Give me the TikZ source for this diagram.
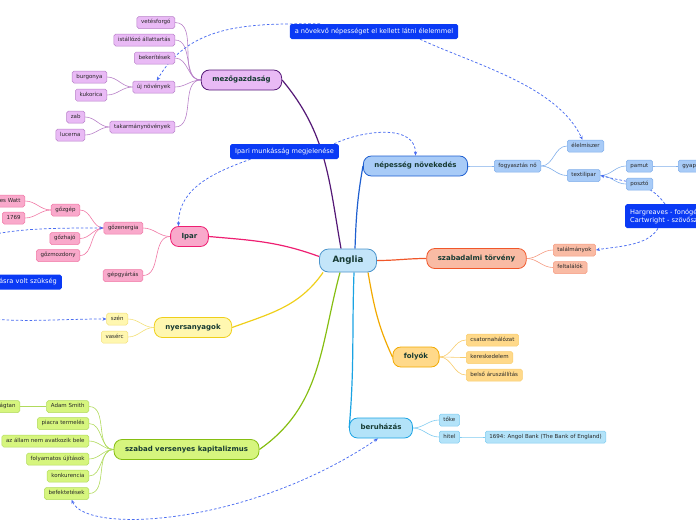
\documentclass[tikz,border=0pt]{standalone}
\usepackage{fontspec}
\setmainfont{DejaVu Sans}
\usepackage{tikz}
\usetikzlibrary{arrows.meta,backgrounds}
\definecolor{rootFill}{RGB}{195,229,249}
\definecolor{rootEdge}{RGB}{76,149,204}
\definecolor{topicText}{RGB}{22,58,50}
\definecolor{leafText}{RGB}{40,40,40}
\definecolor{noteBlue}{RGB}{10,58,245}
\definecolor{relBlue}{RGB}{74,108,240}
\definecolor{agriFill}{RGB}{233,186,245}
\definecolor{agriEdge}{RGB}{84,24,118}
\definecolor{agriSub}{RGB}{184,128,200}
\definecolor{popFill}{RGB}{168,203,247}
\definecolor{popEdge}{RGB}{31,95,208}
\definecolor{popSub}{RGB}{128,174,234}
\definecolor{indFill}{RGB}{249,169,203}
\definecolor{indEdge}{RGB}{238,31,114}
\definecolor{indSub}{RGB}{240,120,165}
\definecolor{patFill}{RGB}{249,187,164}
\definecolor{patEdge}{RGB}{240,87,42}
\definecolor{patSub}{RGB}{245,154,128}
\definecolor{rawFill}{RGB}{255,247,176}
\definecolor{rawEdge}{RGB}{239,207,26}
\definecolor{rawSub}{RGB}{243,224,122}
\definecolor{capFill}{RGB}{214,245,126}
\definecolor{capEdge}{RGB}{134,190,18}
\definecolor{capSub}{RGB}{176,218,92}
\definecolor{rivFill}{RGB}{255,217,138}
\definecolor{rivEdge}{RGB}{242,169,0}
\definecolor{rivSub}{RGB}{248,205,110}
\definecolor{invFill}{RGB}{179,227,249}
\definecolor{invEdge}{RGB}{26,163,227}
\definecolor{invSub}{RGB}{127,203,240}

\tikzset{
  root/.style={draw=rootEdge, fill=rootFill, line width=0.8pt, rounded corners=9pt,
    minimum height=23pt, inner xsep=13pt, inner ysep=0pt, text=topicText,
    font=\bfseries\fontsize{8.7}{10}\selectfont, text height=6.4pt, text depth=1.8pt},
  topic/.style={line width=0.8pt, rounded corners=8pt, minimum height=20pt,
    inner xsep=11pt, inner ysep=0pt, text=topicText,
    font=\bfseries\fontsize{7}{8}\selectfont, text height=5.2pt, text depth=1.5pt},
  leaf/.style={line width=0.5pt, rounded corners=1.8pt, minimum height=12pt,
    inner xsep=4.2pt, inner ysep=0pt, text=leafText,
    font=\fontsize{5.5}{6.5}\selectfont, text height=4.1pt, text depth=1.2pt},
  note/.style={fill=noteBlue, rounded corners=1.8pt, minimum height=15pt,
    inner xsep=5pt, inner ysep=0pt, text=white,
    font=\fontsize{6.6}{8.2}\selectfont, text height=4.9pt, text depth=1.4pt},
  agriT/.style={topic, fill=agriFill, draw=agriEdge},
  agriL/.style={leaf, fill=agriFill, draw=agriSub},
  popT/.style={topic, fill=popFill, draw=popEdge},
  popL/.style={leaf, fill=popFill, draw=popSub},
  indT/.style={topic, fill=indFill, draw=indEdge},
  indL/.style={leaf, fill=indFill, draw=indSub},
  patT/.style={topic, fill=patFill, draw=patEdge},
  patL/.style={leaf, fill=patFill, draw=patSub},
  rawT/.style={topic, fill=rawFill, draw=rawEdge},
  rawL/.style={leaf, fill=rawFill, draw=rawSub},
  capT/.style={topic, fill=capFill, draw=capEdge},
  capL/.style={leaf, fill=capFill, draw=capSub},
  rivT/.style={topic, fill=rivFill, draw=rivEdge},
  rivL/.style={leaf, fill=rivFill, draw=rivSub},
  invT/.style={topic, fill=invFill, draw=invEdge},
  invL/.style={leaf, fill=invFill, draw=invSub},
  branch/.style={line width=1.2pt},
  twigl/.style={line width=0.6pt, out=180, in=0},
  twigr/.style={line width=0.6pt, out=0, in=180},
  rel/.style={draw=relBlue, line width=0.75pt, dash pattern=on 2.6pt off 2pt,
    -{Stealth[length=4pt,width=3.4pt]}},
}

\begin{document}
\begin{tikzpicture}[x=1pt,y=-1pt]
\useasboundingbox (0,0) rectangle (696,520);
\clip (0,0) rectangle (696,520);

% centre and main topics
\node[root] (anglia) at (348,260.5) {Anglia};
\node[agriT] (mezo) at (241.5,80) {mezőgazdaság};
\node[popT] (nep) at (415.5,166) {népesség növekedés};
\node[indT] (ipar) at (189.5,236.5) {Ipar};
\node[patT] (szab) at (476.5,258.5) {szabadalmi törvény};
\node[rawT] (nyers) at (193,327.5) {nyersanyagok};
\node[capT] (szabad) at (186.5,449.5) {szabad versenyes kapitalizmus};
\node[rivT] (foly) at (416,357) {folyók};
\node[invT] (beru) at (381,428) {beruházás};

% mezőgazdaság
\node[agriL, anchor=east] (vetes) at (175,22.5) {vetésforgó};
\node[agriL, anchor=east] (istallo) at (175,40) {istállózó állattartás};
\node[agriL, anchor=east] (bekerit) at (175,58) {bekerítések};
\node[agriL, anchor=east] (ujnov) at (175,87) {új növények};
\node[agriL, anchor=east] (burg) at (107,77) {burgonya};
\node[agriL, anchor=east] (kuk) at (107,95) {kukorica};
\node[agriL, anchor=east] (takarm) at (175,127) {takarmánynövények};
\node[agriL, anchor=east] (zab) at (85,117) {zab};
\node[agriL, anchor=east] (luc) at (85,135) {lucerna};

% ipar
\node[indL, anchor=east] (gozen) at (143,228) {gőzenergia};
\node[indL, anchor=east] (gepgy) at (143,275.5) {gépgyártás};
\node[indL, anchor=east] (gozgep) at (80,210) {gőzgép};
\node[indL, anchor=east] (gozhajo) at (80,238.5) {gőzhajó};
\node[indL, anchor=east] (gozmoz) at (80,255.5) {gőzmozdony};
\node[indL, anchor=east] (watt) at (25,201) {James Watt};
\node[indL, anchor=east] (ev1769) at (25,218) {1769};

% nyersanyagok
\node[rawL, anchor=east] (szen) at (128,319) {szén};
\node[rawL, anchor=east] (vaserc) at (128,337) {vasérc};

% szabad versenyes kapitalizmus
\node[capL, anchor=east] (adam) at (89,406.5) {Adam Smith};
\node[capL, anchor=east] (kozg) at (20,406.5) {közgazdaságtan};
\node[capL, anchor=east] (piac) at (89,423.5) {piacra termelés};
\node[capL, anchor=east] (allam) at (89,441) {az állam nem avatkozik bele};
\node[capL, anchor=east] (ujitas) at (89,459) {folyamatos újítások};
\node[capL, anchor=east] (konk) at (89,476) {konkurencia};
\node[capL, anchor=east] (befekt) at (89,493.5) {befektetések};

% népesség növekedés
\node[popL, anchor=west] (fogy) at (494,166) {fogyasztás nő};
\node[popL, anchor=west] (elel) at (567,146) {élelmiszer};
\node[popL, anchor=west] (textil) at (567,175.5) {textilipar};
\node[popL, anchor=west] (pamut) at (626,166) {pamut};
\node[popL, anchor=west] (gyapot) at (678,166) {gyapot};
\node[popL, anchor=west] (poszto) at (626,184) {posztó};

% szabadalmi törvény
\node[patL, anchor=west] (talal) at (553,250) {találmányok};
\node[patL, anchor=west] (feltal) at (553,267.5) {feltalálók};

% folyók
\node[rivL, anchor=west] (csat) at (466,340) {csatornahálózat};
\node[rivL, anchor=west] (keresk) at (466,357.5) {kereskedelem};
\node[rivL, anchor=west] (belso) at (466,375) {belső áruszállítás};

% beruházás
\node[invL, anchor=west] (toke) at (439,420) {tőke};
\node[invL, anchor=west] (hitel) at (439,437) {hitel};
\node[invL, anchor=west] (bank) at (485,437) {1694: Angol Bank (The Bank of England)};

% relationship labels
\node[note] (ellat) at (374,31.5) {a növekvő népességet el kellett látni élelemmel};
\node[note] (munkas) at (284.5,151.5) {Ipari munkásság megjelenése};
\node[note, anchor=north west, align=left, minimum height=24pt, inner ysep=2pt,
  text height=, text depth=] (gepek) at (625,204)
  {Hargreaves - fonógép\\Cartwright - szövőszék};
\node[note, anchor=east, text width=150pt, align=right] (szukseg) at (62,282)
  {ásra volt szükség};

\begin{scope}[on background layer]
\clip (0,0) rectangle (696,520);
% main branches
\draw[branch, agriEdge] ([xshift=-7pt]anglia.north) to[out=100, in=-50] (mezo.east);
\draw[branch, popEdge] ([xshift=7pt]anglia.north) to[out=88, in=-100] (nep.west);
\draw[branch, indEdge] ([yshift=4pt]anglia.west) to[out=160, in=-5] (ipar.east);
\draw[branch, patEdge] (anglia.east) to[out=0, in=180] (szab.west);
\draw[branch, rawEdge] ([xshift=4pt]anglia.south west) to[out=-125, in=20] (nyers.east);
\draw[branch, capEdge] ([xshift=-8pt]anglia.south) to[out=-105, in=35] (szabad.east);
\draw[branch, invEdge] ([xshift=6pt]anglia.south) to[out=-92, in=85] (beru.west);
\draw[branch, rivEdge] ([xshift=20pt]anglia.south) to[out=-80, in=115] (foly.west);

% sub branches
\foreach \c in {vetes,istallo,bekerit,ujnov,takarm}
  \draw[twigl, agriSub] (mezo.west) to (\c.east);
\foreach \c in {burg,kuk}
  \draw[twigl, agriSub] (ujnov.west) to (\c.east);
\foreach \c in {zab,luc}
  \draw[twigl, agriSub] (takarm.west) to (\c.east);
\foreach \c in {gozen,gepgy}
  \draw[twigl, indSub] (ipar.west) to (\c.east);
\foreach \c in {gozgep,gozhajo,gozmoz}
  \draw[twigl, indSub] (gozen.west) to (\c.east);
\foreach \c in {watt,ev1769}
  \draw[twigl, indSub] (gozgep.west) to (\c.east);
\foreach \c in {szen,vaserc}
  \draw[twigl, rawSub] (nyers.west) to (\c.east);
\foreach \c in {adam,piac,allam,ujitas,konk,befekt}
  \draw[twigl, capSub] (szabad.west) to (\c.east);
\draw[twigl, capSub] (adam.west) to (kozg.east);
\draw[twigr, popSub] (nep.east) to (fogy.west);
\foreach \c in {elel,textil}
  \draw[twigr, popSub] (fogy.east) to (\c.west);
\foreach \c in {pamut,poszto}
  \draw[twigr, popSub] (textil.east) to (\c.west);
\draw[twigr, popSub] (pamut.east) to (gyapot.west);
\foreach \c in {talal,feltal}
  \draw[twigr, patSub] (szab.east) to (\c.west);
\foreach \c in {csat,keresk,belso}
  \draw[twigr, rivSub] (foly.east) to (\c.west);
\foreach \c in {toke,hitel}
  \draw[twigr, invSub] (beru.east) to (\c.west);
\draw[twigr, invSub] (hitel.east) to (bank.west);

% relationships
\draw[rel] ([xshift=-54pt]ellat.north) to[out=180, in=60] ([xshift=3pt]ujnov.north);
\draw[rel] ([xshift=46pt]ellat.south) to[out=-25, in=115, looseness=0.8] ([xshift=-3pt]elel.north);
\draw[rel] ([xshift=-34pt]munkas.south) to[out=200, in=90] ([xshift=-11pt]ipar.north);
\draw[rel] ([xshift=-5pt]munkas.north east) to[out=25, in=90] (nep.north);
\draw[rel] ([xshift=40pt]gepek.north west) to[out=125, in=-15] (textil.east);
\draw[rel] ([xshift=33pt]gepek.south west) to[out=-120, in=10, looseness=0.8] (talal.east);
\draw[rel] (szukseg.north west) to[out=35, in=180] (gozen.west);
\draw[rel] (szukseg.south west) to[out=-30, in=180] (szen.west);
\draw[rel, {Stealth[length=4pt,width=3.4pt]}-{Stealth[length=4pt,width=3.4pt]}]
  ([xshift=5pt]befekt.south) .. controls +(15,35) and +(-128,87) .. ([xshift=-3pt]beru.south);
\end{scope}
\end{tikzpicture}
\end{document}
